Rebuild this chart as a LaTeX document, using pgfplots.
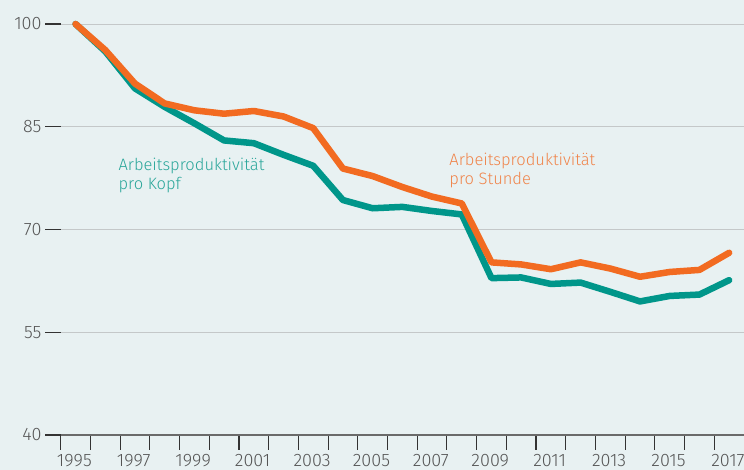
\documentclass[border=0pt]{standalone}
\usepackage{pgfplots}
\pgfplotsset{compat=1.18}
\usepackage{fontspec}
\setmainfont{Fira Sans}[UprightFont=* Light]
\definecolor{bg}{HTML}{E8F1F2}
\definecolor{tealline}{HTML}{00968A}
\definecolor{orangeline}{HTML}{F26B21}
\definecolor{tealtext}{HTML}{2AA69A}
\definecolor{orangetext}{HTML}{F0844A}
\definecolor{gridgray}{HTML}{C4C8C9}
\definecolor{axisgray}{HTML}{6A6A6A}
\definecolor{tickc}{HTML}{333333}
\definecolor{labgray}{HTML}{555555}
\begin{document}
\begin{tikzpicture}
\fill[bg] (-60.7pt,-35pt) rectangle (683.3pt,435pt);
\useasboundingbox (-60.7pt,-35pt) rectangle (683.3pt,435pt);
\begin{axis}[
  at={(0pt,0pt)}, anchor=south west,
  scale only axis, width=683.3pt, height=411pt,
  xmin=1994.5, xmax=2017.5, ymin=40, ymax=100,
  axis x line*=bottom, axis y line*=left,
  y axis line style={draw=none},
  x axis line style={draw=axisgray, line width=1.3pt},
  xtick={1995,1997,...,2017},
  minor xtick={1994.5,1995.5,...,2016.5},
  major x tick style={draw=none},
  minor x tick style={draw=tickc, line width=1.1pt},
  minor tick length=15pt,
  major tick length=15.7pt,
  tick align=outside,
  ytick={40,55,70,85,100},
  ytick style={draw=tickc, line width=1.3pt},
  ymajorgrids, grid style={draw=gridgray, line width=0.9pt},
  tick label style={font=\fontsize{18}{20}\selectfont, text=labgray},
  x tick label style={yshift=0pt, xshift=-1.2pt},
  /pgf/number format/assume math mode=true,
  x tick label style={/pgf/number format/1000 sep={}},
  clip=false,
]
\addplot[tealline, line width=6.5pt, line cap=round, line join=round] coordinates {
(1995,100) (1996,96.0) (1997,90.6) (1998,87.9) (1999,85.5) (2000,83.0) (2001,82.6) (2002,80.9) (2003,79.3) (2004,74.3) (2005,73.1) (2006,73.3) (2007,72.7) (2008,72.2) (2009,62.9) (2010,63.0) (2011,62.05) (2012,62.25) (2013,60.9) (2014,59.5) (2015,60.3) (2016,60.5) (2017,62.6)
};
\addplot[orangeline, line width=6.5pt, line cap=round, line join=round] coordinates {
(1995,100) (1996,96.2) (1997,91.3) (1998,88.4) (1999,87.4) (2000,86.9) (2001,87.3) (2002,86.5) (2003,84.8) (2004,78.9) (2005,77.8) (2006,76.2) (2007,74.8) (2008,73.8) (2009,65.2) (2010,64.9) (2011,64.2) (2012,65.2) (2013,64.3) (2014,63.1) (2015,63.8) (2016,64.1) (2017,66.6)
};
\node[anchor=base west, inner sep=0pt, text=tealtext, font=\fontsize{16.5}{19}\selectfont] at (axis cs:1996.44,78.54) {Arbeitsproduktivität};
\node[anchor=base west, inner sep=0pt, text=tealtext, font=\fontsize{16.5}{19}\selectfont] at (axis cs:1996.44,75.77) {pro Kopf};
\node[anchor=base west, inner sep=0pt, text=orangetext, font=\fontsize{16.5}{19}\selectfont] at (axis cs:2007.58,79.27) {Arbeitsproduktivität};
\node[anchor=base west, inner sep=0pt, text=orangetext, font=\fontsize{16.5}{19}\selectfont] at (axis cs:2007.58,76.50) {pro Stunde};
\end{axis}
\end{tikzpicture}
\end{document}
